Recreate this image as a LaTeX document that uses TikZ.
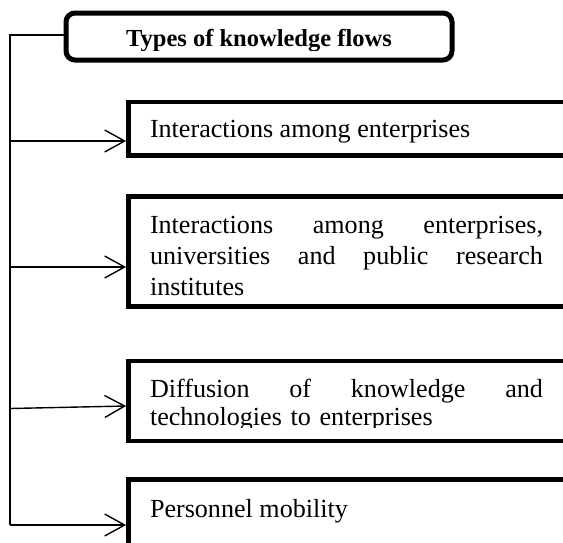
\documentclass[tikz,border=0pt]{standalone}
\usepackage{fontspec}
\setmainfont{Liberation Serif}
\usetikzlibrary{arrows.meta,calc}
\begin{document}
\begin{tikzpicture}[x=1pt,y=-1pt,
  kbox/.style={draw, line width=4.8pt, inner sep=0pt, outer sep=0pt, anchor=north west, minimum width=470pt},
  tbox/.style={draw, line width=5pt, rounded corners=9pt, inner sep=0pt, outer sep=0pt},
  thin/.style={line width=1.4pt},
  arr/.style={line width=1.4pt, -{Straight Barb[length=20pt,width=22pt]}},
  body/.style={inner sep=0pt, outer sep=0pt, anchor=base west, font=\fontsize{26.1}{31}\selectfont},
]
\path[use as bounding box, fill=white] (0,0) rectangle (563,542);
\clip (0,0) rectangle (563,542);

% title
\node[tbox, minimum width=386pt, minimum height=47pt] (title) at (259,36.5) {};
\begin{scope}
  \clip (70,16) rectangle (448,50);
  \node[inner sep=0pt, anchor=base, font=\bfseries\fontsize{24.5}{28}\selectfont] (ttext) at (259,46) {Types of knowledge flows};
\end{scope}

% boxes
\node[kbox, minimum height=53.5pt] (b1) at (128.5,102) {};
\node[kbox, minimum height=110pt] (b2) at (128.5,196.5) {};
\node[kbox, minimum height=80pt] (b3) at (128.5,361) {};
\node[kbox, minimum height=80pt] (b4) at (128.5,479.5) {};

% texts
\node[body] (t1) at (150,137) {Interactions among enterprises};
\node[body, text width=393pt] (t2) at (150,233)
  {Interactions\hfill among\hfill enterprises,\\
   universities\hfill and\hfill public\hfill research\\
   institutes};
\begin{scope}
  \clip (131,364) rectangle (560,427.5);
  \node[body, font=\fontsize{26.1}{28}\selectfont, text width=393pt] (t3) at (150,397)
    {Diffusion\hfill of\hfill knowledge\hfill and\\
     technologies to enterprises};
\end{scope}
\node[body] (t4) at (150,517) {Personnel mobility};

% spine
\coordinate (top) at (10,35);
\coordinate (bot) at (10,525);
\draw[thin] (title.west |- top) -- (top) -- (bot);

% arrow targets
\coordinate (e1) at ($(b1.west |- 0,141)+(-2.4pt,0)$);
\coordinate (e2) at ($(b2.west |- 0,267)+(-2.4pt,0)$);
\coordinate (e3) at ($(b3.west |- 0,406)+(-2.4pt,0)$);
\coordinate (e4) at ($(b4.west |- 0,525)+(-2.4pt,0)$);

\draw[arr] (top |- e1) -- (e1);
\draw[arr] (top |- e2) -- (e2);
\draw[arr] ($(top |- e3)+(0,-2.5pt)$) -- (e3);
\draw[arr] (bot) -- (e4);
\end{tikzpicture}
\end{document}
